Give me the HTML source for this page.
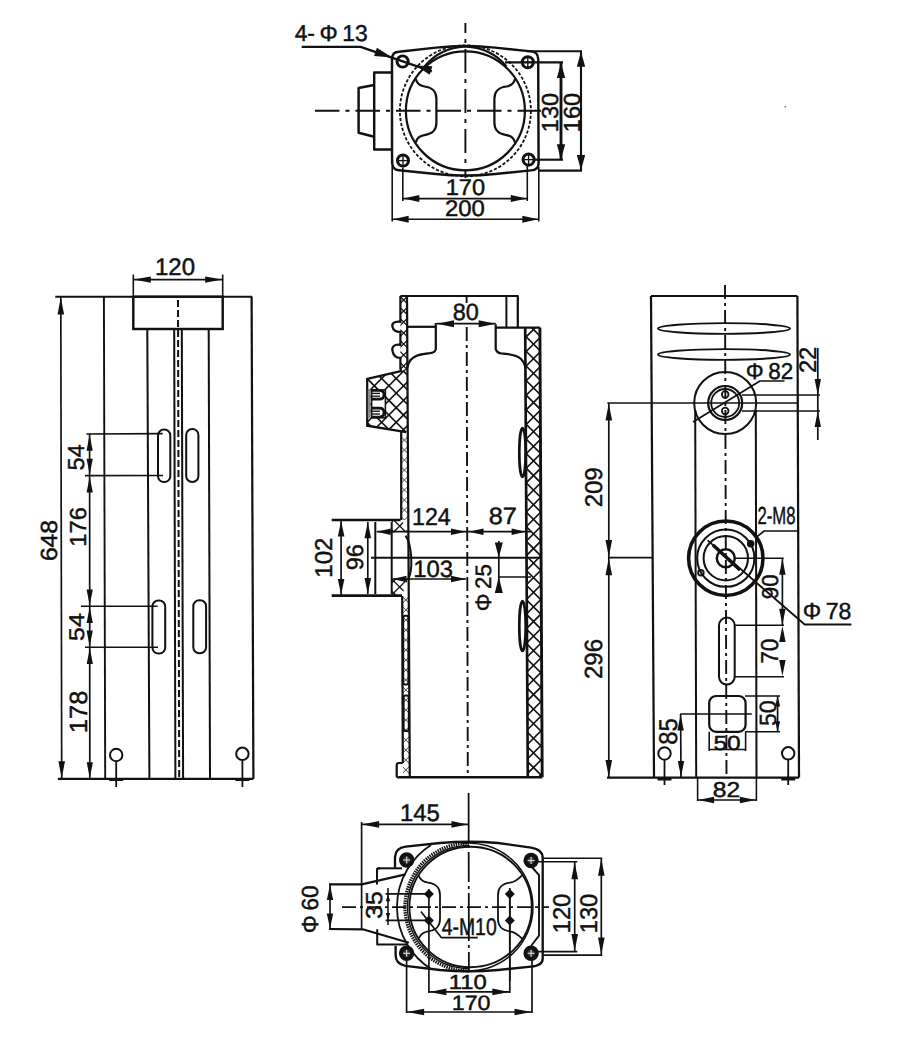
<!DOCTYPE html>
<html><head><meta charset="utf-8"><style>
html,body{margin:0;padding:0;background:#fff;}
svg{display:block;}
text{font-family:"Liberation Sans",sans-serif;fill:#111;stroke:#111;stroke-width:0.45px;text-rendering:geometricPrecision;}
</style></head><body>
<svg width="900" height="1039" viewBox="0 0 900 1039">
<defs>
<pattern id="hx" width="9.2" height="9.2" patternUnits="userSpaceOnUse" patternTransform="rotate(45)">
<path d="M0,0 L9.2,0 M0,0 L0,9.2" stroke="#111" stroke-width="1.5"/>
</pattern>
<pattern id="hx2" width="7" height="7" patternUnits="userSpaceOnUse" patternTransform="rotate(45)">
<path d="M0,0 L7,0 M0,0 L0,7" stroke="#555" stroke-width="1.0"/>
</pattern>
</defs>
<rect width="900" height="1039" fill="#fff"/>
<path d="M392,150 L392,59 Q392,52 399,51.8 L436,47.6 Q465.4,44.2 495,47.6 L531,51.4 Q538,52 538.2,59 L538.6,163 Q538.6,170 531,170.4 L495,174 Q465.4,177.2 436,174 L399,170.2 Q392.2,169.8 392.2,163 Z" fill="none" stroke="#111" stroke-width="2.45"/>
<circle cx="465.4" cy="110.8" r="65.5" fill="none" stroke="#111" stroke-width="1.79" stroke-dasharray="3.2,1.8"/>
<circle cx="465.4" cy="110.8" r="59.5" fill="none" stroke="#111" stroke-width="2.23"/>
<path d="M424.5,66.5 C433,56 447,47.6 465.4,46.4 C484,47.6 498,56 506.5,66.5" fill="none" stroke="#111" stroke-width="2.12"/>
<path d="M415.8,79.1 C416.9,83.8 419.4,85.8 424.4,86.5 C433.4,87.8 436.4,91.8 436.4,98.8 L436.4,122.8 C436.4,129.8 433.4,133.8 424.4,135.1 C419.4,135.8 416.9,137.8 415.8,142.5" fill="none" stroke="#111" stroke-width="2.23"/>
<path d="M515.0,79.1 C513.9,83.8 511.4,85.8 506.4,86.5 C497.4,87.8 494.4,91.8 494.4,98.8 L494.4,122.8 C494.4,129.8 497.4,133.8 506.4,135.1 C511.4,135.8 513.9,137.8 515.0,142.5" fill="none" stroke="#111" stroke-width="2.23"/>
<circle cx="402.6" cy="61.5" r="5.6" fill="none" stroke="#111" stroke-width="2.89"/>
<circle cx="527.8" cy="62.3" r="5.6" fill="none" stroke="#111" stroke-width="2.89"/>
<line x1="522.3" y1="62.3" x2="533.3" y2="62.3" stroke="#111" stroke-width="1.35"/>
<line x1="527.8" y1="56.8" x2="527.8" y2="67.8" stroke="#111" stroke-width="1.35"/>
<circle cx="403.0" cy="160.6" r="5.6" fill="none" stroke="#111" stroke-width="2.89"/>
<line x1="397.5" y1="160.6" x2="408.5" y2="160.6" stroke="#111" stroke-width="1.35"/>
<line x1="403.0" y1="155.1" x2="403.0" y2="166.1" stroke="#111" stroke-width="1.35"/>
<circle cx="528.6" cy="159.6" r="5.6" fill="none" stroke="#111" stroke-width="2.89"/>
<line x1="523.1" y1="159.6" x2="534.1" y2="159.6" stroke="#111" stroke-width="1.35"/>
<line x1="528.6" y1="154.1" x2="528.6" y2="165.1" stroke="#111" stroke-width="1.35"/>
<polyline points="392.0,72.4 374.2,72.4 374.2,149.5 392.0,149.5" fill="none" stroke="#111" stroke-width="2.45" stroke-linejoin="round"/>
<polyline points="374.2,85.0 358.6,88.0 358.6,132.8 374.2,136.7" fill="none" stroke="#111" stroke-width="2.45" stroke-linejoin="round"/>
<line x1="315.0" y1="110.8" x2="541.0" y2="110.8" stroke="#111" stroke-width="1.9" stroke-dasharray="24.5,6,4,6"/>
<line x1="465.4" y1="23.0" x2="465.4" y2="178.0" stroke="#111" stroke-width="1.9" stroke-dasharray="10,6,4,6,24,6,4,6,24,6,4,6,24,6,4,6,24,6,4,6"/>
<polyline points="301.7,46.9 360.6,46.9 431.8,71.4" fill="none" stroke="#111" stroke-width="2.23" stroke-linejoin="round"/>
<polygon points="392.2,57.5 374.1,55.9 376.9,47.7" fill="#111"/>
<polygon points="416.0,65.4 432.4,66.2 429.6,74.8" fill="#111"/>
<text x="294.66" y="41.36" font-size="22.89" textLength="73.14" lengthAdjust="spacingAndGlyphs">4-&#8201;Φ&#8201;13</text>
<line x1="505.0" y1="62.4" x2="563.0" y2="62.4" stroke="#111" stroke-width="2.12"/>
<line x1="534.0" y1="159.7" x2="563.0" y2="159.7" stroke="#111" stroke-width="2.12"/>
<line x1="561.0" y1="62.4" x2="561.0" y2="159.7" stroke="#111" stroke-width="2.89"/>
<polygon points="561.0,63.0 565.2,78.0 556.8,78.0" fill="#111"/>
<polygon points="561.0,159.2 556.8,144.2 565.2,144.2" fill="#111"/>
<text transform="translate(558.14,132.14) rotate(-90)" x="0" y="0" font-size="23.11" textLength="39.11" lengthAdjust="spacingAndGlyphs">130</text>
<line x1="527.0" y1="51.2" x2="582.0" y2="51.2" stroke="#111" stroke-width="2.12"/>
<line x1="538.0" y1="170.6" x2="582.0" y2="170.6" stroke="#111" stroke-width="2.12"/>
<line x1="581.0" y1="51.2" x2="581.0" y2="170.6" stroke="#111" stroke-width="2.12"/>
<polygon points="581.0,51.8 585.2,66.8 576.8,66.8" fill="#111"/>
<polygon points="581.0,170.0 576.8,155.0 585.2,155.0" fill="#111"/>
<text transform="translate(580.44,132.13) rotate(-90)" x="0" y="0" font-size="23.24" textLength="39.15" lengthAdjust="spacingAndGlyphs">160</text>
<line x1="402.8" y1="168.0" x2="402.8" y2="201.0" stroke="#111" stroke-width="1.57"/>
<line x1="527.3" y1="166.0" x2="527.3" y2="201.0" stroke="#111" stroke-width="1.57"/>
<line x1="402.8" y1="198.6" x2="527.3" y2="198.6" stroke="#111" stroke-width="1.57"/>
<polygon points="403.3,198.6 419.3,195.1 419.3,202.1" fill="#111"/>
<polygon points="526.8,198.6 510.8,202.1 510.8,195.1" fill="#111"/>
<text x="445.66" y="195.44" font-size="22.66" textLength="39.48" lengthAdjust="spacingAndGlyphs">170</text>
<line x1="392.2" y1="167.0" x2="392.2" y2="221.5" stroke="#111" stroke-width="1.57"/>
<line x1="538.8" y1="167.0" x2="538.8" y2="221.5" stroke="#111" stroke-width="1.57"/>
<line x1="392.2" y1="219.2" x2="538.8" y2="219.2" stroke="#111" stroke-width="1.57"/>
<polygon points="392.7,219.2 408.7,215.7 408.7,222.7" fill="#111"/>
<polygon points="538.3,219.2 522.3,222.7 522.3,215.7" fill="#111"/>
<text x="444.95" y="216.45" font-size="22.67" textLength="39.94" lengthAdjust="spacingAndGlyphs">200</text>
<line x1="55.3" y1="296.7" x2="252.1" y2="296.7" stroke="#111" stroke-width="1.9"/>
<line x1="57.9" y1="778.8" x2="253.4" y2="778.8" stroke="#111" stroke-width="2.23"/>
<line x1="251.6" y1="296.7" x2="253.4" y2="778.8" stroke="#111" stroke-width="2.23"/>
<line x1="103.9" y1="296.7" x2="105.2" y2="778.8" stroke="#111" stroke-width="1.9"/>
<rect x="133.3" y="296.7" width="89.4" height="32.3" rx="0" fill="none" stroke="#111" stroke-width="2.45"/>
<line x1="147.3" y1="329.0" x2="149.4" y2="778.8" stroke="#111" stroke-width="2.01"/>
<line x1="208.7" y1="329.0" x2="210.0" y2="778.8" stroke="#111" stroke-width="2.01"/>
<line x1="174.2" y1="329.0" x2="175.4" y2="778.8" stroke="#111" stroke-width="2.01"/>
<line x1="181.8" y1="329.0" x2="183.1" y2="778.8" stroke="#111" stroke-width="2.01"/>
<line x1="178.0" y1="300.0" x2="179.2" y2="778.8" stroke="#111" stroke-width="2.01" stroke-dasharray="7,3"/>
<rect x="158.0" y="429.5" width="12.3" height="52.6" rx="6" fill="none" stroke="#111" stroke-width="2.01"/>
<rect x="186.2" y="429.0" width="12.2" height="53.0" rx="6" fill="none" stroke="#111" stroke-width="2.01"/>
<rect x="152.4" y="600.5" width="12.8" height="53.1" rx="6" fill="none" stroke="#111" stroke-width="2.01"/>
<rect x="193.3" y="600.3" width="12.8" height="52.9" rx="6" fill="none" stroke="#111" stroke-width="2.01"/>
<circle cx="116.2" cy="755.0" r="6.2" fill="none" stroke="#111" stroke-width="2.01"/>
<line x1="116.2" y1="761.2" x2="116.2" y2="787.0" stroke="#111" stroke-width="1.79"/>
<line x1="109.2" y1="779.5" x2="123.2" y2="779.5" stroke="#111" stroke-width="3.0"/>
<circle cx="242.4" cy="753.8" r="6.2" fill="none" stroke="#111" stroke-width="2.01"/>
<line x1="242.4" y1="760.0" x2="242.4" y2="787.0" stroke="#111" stroke-width="1.79"/>
<line x1="235.4" y1="779.5" x2="249.4" y2="779.5" stroke="#111" stroke-width="3.0"/>
<line x1="60.8" y1="297.0" x2="61.7" y2="778.5" stroke="#111" stroke-width="1.68"/>
<polygon points="60.8,297.5 64.1,314.5 57.5,314.5" fill="#111"/>
<polygon points="61.7,778.3 58.4,761.3 65.0,761.3" fill="#111"/>
<text transform="translate(57.42,561.11) rotate(-90)" x="0" y="0" font-size="23.32" textLength="41.17" lengthAdjust="spacingAndGlyphs">648</text>
<line x1="133.3" y1="274.5" x2="133.3" y2="296.7" stroke="#111" stroke-width="1.57"/>
<line x1="222.7" y1="274.5" x2="222.7" y2="296.7" stroke="#111" stroke-width="1.57"/>
<line x1="133.3" y1="279.6" x2="222.7" y2="279.6" stroke="#111" stroke-width="1.68"/>
<polygon points="133.8,279.6 150.8,276.4 150.8,282.8" fill="#111"/>
<polygon points="222.2,279.6 205.2,282.8 205.2,276.4" fill="#111"/>
<text x="155.02" y="275.49" font-size="23.87" textLength="40.02" lengthAdjust="spacingAndGlyphs">120</text>
<line x1="86.4" y1="434.0" x2="162.7" y2="433.6" stroke="#111" stroke-width="1.57"/>
<line x1="84.9" y1="475.6" x2="163.0" y2="475.5" stroke="#111" stroke-width="1.57"/>
<line x1="81.0" y1="606.3" x2="157.6" y2="606.3" stroke="#111" stroke-width="1.57"/>
<line x1="85.0" y1="647.2" x2="158.0" y2="647.2" stroke="#111" stroke-width="1.57"/>
<line x1="89.6" y1="434.0" x2="89.8" y2="778.5" stroke="#111" stroke-width="1.68"/>
<polygon points="89.6,434.8 92.7,450.8 86.5,450.8" fill="#111"/>
<polygon points="89.7,474.8 86.6,458.8 92.8,458.8" fill="#111"/>
<polygon points="89.7,476.4 92.8,492.4 86.6,492.4" fill="#111"/>
<polygon points="89.7,605.5 86.6,589.5 92.8,589.5" fill="#111"/>
<polygon points="89.7,607.1 92.8,623.1 86.6,623.1" fill="#111"/>
<polygon points="89.7,646.4 86.6,630.4 92.8,630.4" fill="#111"/>
<polygon points="89.8,648.0 92.9,664.0 86.7,664.0" fill="#111"/>
<polygon points="89.8,778.3 86.7,762.3 92.9,762.3" fill="#111"/>
<text transform="translate(84.26,470.41) rotate(-90)" x="0" y="0" font-size="23.18" textLength="26.14" lengthAdjust="spacingAndGlyphs">54</text>
<text transform="translate(85.59,546.66) rotate(-90)" x="0" y="0" font-size="23.16" textLength="39.45" lengthAdjust="spacingAndGlyphs">176</text>
<text transform="translate(83.73,640.91) rotate(-90)" x="0" y="0" font-size="21.35" textLength="27.73" lengthAdjust="spacingAndGlyphs">54</text>
<text transform="translate(86.93,733.23) rotate(-90)" x="0" y="0" font-size="24.92" textLength="42.55" lengthAdjust="spacingAndGlyphs">178</text>
<clipPath id="hc1"><path d="M525.5,327.6 L540,327.6 L542,777.3 L527.6,777.3 Z"/></clipPath><g clip-path="url(#hc1)" stroke="#111" stroke-width="1.6"><line x1="520.0" y1="272.2" x2="545.0" y2="297.2"/><line x1="520.0" y1="286.8" x2="545.0" y2="311.8"/><line x1="520.0" y1="301.4" x2="545.0" y2="326.4"/><line x1="520.0" y1="316.0" x2="545.0" y2="341.0"/><line x1="520.0" y1="330.6" x2="545.0" y2="355.6"/><line x1="520.0" y1="345.2" x2="545.0" y2="370.2"/><line x1="520.0" y1="359.8" x2="545.0" y2="384.8"/><line x1="520.0" y1="374.4" x2="545.0" y2="399.4"/><line x1="520.0" y1="389.0" x2="545.0" y2="414.0"/><line x1="520.0" y1="403.6" x2="545.0" y2="428.6"/><line x1="520.0" y1="418.2" x2="545.0" y2="443.2"/><line x1="520.0" y1="432.8" x2="545.0" y2="457.8"/><line x1="520.0" y1="447.4" x2="545.0" y2="472.4"/><line x1="520.0" y1="462.0" x2="545.0" y2="487.0"/><line x1="520.0" y1="476.6" x2="545.0" y2="501.6"/><line x1="520.0" y1="491.2" x2="545.0" y2="516.2"/><line x1="520.0" y1="505.8" x2="545.0" y2="530.8"/><line x1="520.0" y1="520.4" x2="545.0" y2="545.4"/><line x1="520.0" y1="535.0" x2="545.0" y2="560.0"/><line x1="520.0" y1="549.6" x2="545.0" y2="574.6"/><line x1="520.0" y1="564.2" x2="545.0" y2="589.2"/><line x1="520.0" y1="578.8" x2="545.0" y2="603.8"/><line x1="520.0" y1="593.4" x2="545.0" y2="618.4"/><line x1="520.0" y1="608.0" x2="545.0" y2="633.0"/><line x1="520.0" y1="622.6" x2="545.0" y2="647.6"/><line x1="520.0" y1="637.2" x2="545.0" y2="662.2"/><line x1="520.0" y1="651.8" x2="545.0" y2="676.8"/><line x1="520.0" y1="666.4" x2="545.0" y2="691.4"/><line x1="520.0" y1="681.0" x2="545.0" y2="706.0"/><line x1="520.0" y1="695.6" x2="545.0" y2="720.6"/><line x1="520.0" y1="710.2" x2="545.0" y2="735.2"/><line x1="520.0" y1="724.8" x2="545.0" y2="749.8"/><line x1="520.0" y1="739.4" x2="545.0" y2="764.4"/><line x1="520.0" y1="754.0" x2="545.0" y2="779.0"/><line x1="520.0" y1="768.6" x2="545.0" y2="793.6"/><line x1="520.0" y1="783.2" x2="545.0" y2="808.2"/><line x1="520.0" y1="797.8" x2="545.0" y2="822.8"/><line x1="520.0" y1="299.2" x2="545.0" y2="274.2"/><line x1="520.0" y1="313.8" x2="545.0" y2="288.8"/><line x1="520.0" y1="328.4" x2="545.0" y2="303.4"/><line x1="520.0" y1="343.0" x2="545.0" y2="318.0"/><line x1="520.0" y1="357.6" x2="545.0" y2="332.6"/><line x1="520.0" y1="372.2" x2="545.0" y2="347.2"/><line x1="520.0" y1="386.8" x2="545.0" y2="361.8"/><line x1="520.0" y1="401.4" x2="545.0" y2="376.4"/><line x1="520.0" y1="416.0" x2="545.0" y2="391.0"/><line x1="520.0" y1="430.6" x2="545.0" y2="405.6"/><line x1="520.0" y1="445.2" x2="545.0" y2="420.2"/><line x1="520.0" y1="459.8" x2="545.0" y2="434.8"/><line x1="520.0" y1="474.4" x2="545.0" y2="449.4"/><line x1="520.0" y1="489.0" x2="545.0" y2="464.0"/><line x1="520.0" y1="503.6" x2="545.0" y2="478.6"/><line x1="520.0" y1="518.2" x2="545.0" y2="493.2"/><line x1="520.0" y1="532.8" x2="545.0" y2="507.8"/><line x1="520.0" y1="547.4" x2="545.0" y2="522.4"/><line x1="520.0" y1="562.0" x2="545.0" y2="537.0"/><line x1="520.0" y1="576.6" x2="545.0" y2="551.6"/><line x1="520.0" y1="591.2" x2="545.0" y2="566.2"/><line x1="520.0" y1="605.8" x2="545.0" y2="580.8"/><line x1="520.0" y1="620.4" x2="545.0" y2="595.4"/><line x1="520.0" y1="635.0" x2="545.0" y2="610.0"/><line x1="520.0" y1="649.6" x2="545.0" y2="624.6"/><line x1="520.0" y1="664.2" x2="545.0" y2="639.2"/><line x1="520.0" y1="678.8" x2="545.0" y2="653.8"/><line x1="520.0" y1="693.4" x2="545.0" y2="668.4"/><line x1="520.0" y1="708.0" x2="545.0" y2="683.0"/><line x1="520.0" y1="722.6" x2="545.0" y2="697.6"/><line x1="520.0" y1="737.2" x2="545.0" y2="712.2"/><line x1="520.0" y1="751.8" x2="545.0" y2="726.8"/><line x1="520.0" y1="766.4" x2="545.0" y2="741.4"/><line x1="520.0" y1="781.0" x2="545.0" y2="756.0"/><line x1="520.0" y1="795.6" x2="545.0" y2="770.6"/><line x1="520.0" y1="810.2" x2="545.0" y2="785.2"/><line x1="520.0" y1="824.8" x2="545.0" y2="799.8"/></g>
<clipPath id="hc2"><path d="M400.5,296 L407,296 L407,370 L400.5,370 Z"/></clipPath><g clip-path="url(#hc2)" stroke="#111" stroke-width="1.3"><line x1="395.0" y1="258.3" x2="410.0" y2="273.3"/><line x1="395.0" y1="269.3" x2="410.0" y2="284.3"/><line x1="395.0" y1="280.3" x2="410.0" y2="295.3"/><line x1="395.0" y1="291.3" x2="410.0" y2="306.3"/><line x1="395.0" y1="302.3" x2="410.0" y2="317.3"/><line x1="395.0" y1="313.3" x2="410.0" y2="328.3"/><line x1="395.0" y1="324.3" x2="410.0" y2="339.3"/><line x1="395.0" y1="335.3" x2="410.0" y2="350.3"/><line x1="395.0" y1="346.3" x2="410.0" y2="361.3"/><line x1="395.0" y1="357.3" x2="410.0" y2="372.3"/><line x1="395.0" y1="368.3" x2="410.0" y2="383.3"/><line x1="395.0" y1="379.3" x2="410.0" y2="394.3"/><line x1="395.0" y1="390.3" x2="410.0" y2="405.3"/><line x1="395.0" y1="275.7" x2="410.0" y2="260.7"/><line x1="395.0" y1="286.7" x2="410.0" y2="271.7"/><line x1="395.0" y1="297.7" x2="410.0" y2="282.7"/><line x1="395.0" y1="308.7" x2="410.0" y2="293.7"/><line x1="395.0" y1="319.7" x2="410.0" y2="304.7"/><line x1="395.0" y1="330.7" x2="410.0" y2="315.7"/><line x1="395.0" y1="341.7" x2="410.0" y2="326.7"/><line x1="395.0" y1="352.7" x2="410.0" y2="337.7"/><line x1="395.0" y1="363.7" x2="410.0" y2="348.7"/><line x1="395.0" y1="374.7" x2="410.0" y2="359.7"/><line x1="395.0" y1="385.7" x2="410.0" y2="370.7"/><line x1="395.0" y1="396.7" x2="410.0" y2="381.7"/><line x1="395.0" y1="407.7" x2="410.0" y2="392.7"/></g>
<clipPath id="hc3"><path d="M401.9,370.9 L367.2,378.8 L367.2,425.7 L406.2,432.2 L407,432 L407,368 Z"/></clipPath><g clip-path="url(#hc3)" stroke="#111" stroke-width="1.6"><line x1="360.0" y1="283.9" x2="410.0" y2="333.9"/><line x1="360.0" y1="298.5" x2="410.0" y2="348.5"/><line x1="360.0" y1="313.1" x2="410.0" y2="363.1"/><line x1="360.0" y1="327.7" x2="410.0" y2="377.7"/><line x1="360.0" y1="342.3" x2="410.0" y2="392.3"/><line x1="360.0" y1="356.9" x2="410.0" y2="406.9"/><line x1="360.0" y1="371.5" x2="410.0" y2="421.5"/><line x1="360.0" y1="386.1" x2="410.0" y2="436.1"/><line x1="360.0" y1="400.7" x2="410.0" y2="450.7"/><line x1="360.0" y1="415.3" x2="410.0" y2="465.3"/><line x1="360.0" y1="429.9" x2="410.0" y2="479.9"/><line x1="360.0" y1="444.5" x2="410.0" y2="494.5"/><line x1="360.0" y1="459.1" x2="410.0" y2="509.1"/><line x1="360.0" y1="341.7" x2="410.0" y2="291.7"/><line x1="360.0" y1="356.3" x2="410.0" y2="306.3"/><line x1="360.0" y1="370.9" x2="410.0" y2="320.9"/><line x1="360.0" y1="385.5" x2="410.0" y2="335.5"/><line x1="360.0" y1="400.1" x2="410.0" y2="350.1"/><line x1="360.0" y1="414.7" x2="410.0" y2="364.7"/><line x1="360.0" y1="429.3" x2="410.0" y2="379.3"/><line x1="360.0" y1="443.9" x2="410.0" y2="393.9"/><line x1="360.0" y1="458.5" x2="410.0" y2="408.5"/><line x1="360.0" y1="473.1" x2="410.0" y2="423.1"/><line x1="360.0" y1="487.7" x2="410.0" y2="437.7"/><line x1="360.0" y1="502.3" x2="410.0" y2="452.3"/><line x1="360.0" y1="516.9" x2="410.0" y2="466.9"/></g>
<clipPath id="hc4"><path d="M391.7,520 L402,520 L407.8,532.2 L391.7,532.2 Z"/></clipPath><g clip-path="url(#hc4)" stroke="#111" stroke-width="1.3"><line x1="388.0" y1="478.3" x2="412.0" y2="502.3"/><line x1="388.0" y1="490.3" x2="412.0" y2="514.3"/><line x1="388.0" y1="502.3" x2="412.0" y2="526.3"/><line x1="388.0" y1="514.3" x2="412.0" y2="538.3"/><line x1="388.0" y1="526.3" x2="412.0" y2="550.3"/><line x1="388.0" y1="538.3" x2="412.0" y2="562.3"/><line x1="388.0" y1="550.3" x2="412.0" y2="574.3"/><line x1="388.0" y1="501.7" x2="412.0" y2="477.7"/><line x1="388.0" y1="513.7" x2="412.0" y2="489.7"/><line x1="388.0" y1="525.7" x2="412.0" y2="501.7"/><line x1="388.0" y1="537.7" x2="412.0" y2="513.7"/><line x1="388.0" y1="549.7" x2="412.0" y2="525.7"/><line x1="388.0" y1="561.7" x2="412.0" y2="537.7"/><line x1="388.0" y1="573.7" x2="412.0" y2="549.7"/></g>
<clipPath id="hc5"><path d="M391.7,579 L407.8,579 L402,595.6 L391.7,595.6 Z"/></clipPath><g clip-path="url(#hc5)" stroke="#111" stroke-width="1.3"><line x1="388.0" y1="527.3" x2="412.0" y2="551.3"/><line x1="388.0" y1="539.3" x2="412.0" y2="563.3"/><line x1="388.0" y1="551.3" x2="412.0" y2="575.3"/><line x1="388.0" y1="563.3" x2="412.0" y2="587.3"/><line x1="388.0" y1="575.3" x2="412.0" y2="599.3"/><line x1="388.0" y1="587.3" x2="412.0" y2="611.3"/><line x1="388.0" y1="599.3" x2="412.0" y2="623.3"/><line x1="388.0" y1="611.3" x2="412.0" y2="635.3"/><line x1="388.0" y1="623.3" x2="412.0" y2="647.3"/><line x1="388.0" y1="562.7" x2="412.0" y2="538.7"/><line x1="388.0" y1="574.7" x2="412.0" y2="550.7"/><line x1="388.0" y1="586.7" x2="412.0" y2="562.7"/><line x1="388.0" y1="598.7" x2="412.0" y2="574.7"/><line x1="388.0" y1="610.7" x2="412.0" y2="586.7"/><line x1="388.0" y1="622.7" x2="412.0" y2="598.7"/><line x1="388.0" y1="634.7" x2="412.0" y2="610.7"/><line x1="388.0" y1="646.7" x2="412.0" y2="622.7"/></g>
<clipPath id="hc6"><path d="M401.2,434 L407.6,434 L407.6,520 L401.2,520 Z"/></clipPath><g clip-path="url(#hc6)" stroke="#444" stroke-width="1.0"><line x1="398.0" y1="403.6" x2="410.0" y2="415.6"/><line x1="398.0" y1="413.6" x2="410.0" y2="425.6"/><line x1="398.0" y1="423.6" x2="410.0" y2="435.6"/><line x1="398.0" y1="433.6" x2="410.0" y2="445.6"/><line x1="398.0" y1="443.6" x2="410.0" y2="455.6"/><line x1="398.0" y1="453.6" x2="410.0" y2="465.6"/><line x1="398.0" y1="463.6" x2="410.0" y2="475.6"/><line x1="398.0" y1="473.6" x2="410.0" y2="485.6"/><line x1="398.0" y1="483.6" x2="410.0" y2="495.6"/><line x1="398.0" y1="493.6" x2="410.0" y2="505.6"/><line x1="398.0" y1="503.6" x2="410.0" y2="515.6"/><line x1="398.0" y1="513.6" x2="410.0" y2="525.6"/><line x1="398.0" y1="523.6" x2="410.0" y2="535.6"/><line x1="398.0" y1="533.6" x2="410.0" y2="545.6"/><line x1="398.0" y1="543.6" x2="410.0" y2="555.6"/><line x1="398.0" y1="416.4" x2="410.0" y2="404.4"/><line x1="398.0" y1="426.4" x2="410.0" y2="414.4"/><line x1="398.0" y1="436.4" x2="410.0" y2="424.4"/><line x1="398.0" y1="446.4" x2="410.0" y2="434.4"/><line x1="398.0" y1="456.4" x2="410.0" y2="444.4"/><line x1="398.0" y1="466.4" x2="410.0" y2="454.4"/><line x1="398.0" y1="476.4" x2="410.0" y2="464.4"/><line x1="398.0" y1="486.4" x2="410.0" y2="474.4"/><line x1="398.0" y1="496.4" x2="410.0" y2="484.4"/><line x1="398.0" y1="506.4" x2="410.0" y2="494.4"/><line x1="398.0" y1="516.4" x2="410.0" y2="504.4"/><line x1="398.0" y1="526.4" x2="410.0" y2="514.4"/><line x1="398.0" y1="536.4" x2="410.0" y2="524.4"/><line x1="398.0" y1="546.4" x2="410.0" y2="534.4"/><line x1="398.0" y1="556.4" x2="410.0" y2="544.4"/></g>
<clipPath id="hc7"><path d="M402,596 L409,596 L410,777 L403,777 Z"/></clipPath><g clip-path="url(#hc7)" stroke="#444" stroke-width="1.0"><line x1="398.0" y1="562.2" x2="414.0" y2="578.2"/><line x1="398.0" y1="572.2" x2="414.0" y2="588.2"/><line x1="398.0" y1="582.2" x2="414.0" y2="598.2"/><line x1="398.0" y1="592.2" x2="414.0" y2="608.2"/><line x1="398.0" y1="602.2" x2="414.0" y2="618.2"/><line x1="398.0" y1="612.2" x2="414.0" y2="628.2"/><line x1="398.0" y1="622.2" x2="414.0" y2="638.2"/><line x1="398.0" y1="632.2" x2="414.0" y2="648.2"/><line x1="398.0" y1="642.2" x2="414.0" y2="658.2"/><line x1="398.0" y1="652.2" x2="414.0" y2="668.2"/><line x1="398.0" y1="662.2" x2="414.0" y2="678.2"/><line x1="398.0" y1="672.2" x2="414.0" y2="688.2"/><line x1="398.0" y1="682.2" x2="414.0" y2="698.2"/><line x1="398.0" y1="692.2" x2="414.0" y2="708.2"/><line x1="398.0" y1="702.2" x2="414.0" y2="718.2"/><line x1="398.0" y1="712.2" x2="414.0" y2="728.2"/><line x1="398.0" y1="722.2" x2="414.0" y2="738.2"/><line x1="398.0" y1="732.2" x2="414.0" y2="748.2"/><line x1="398.0" y1="742.2" x2="414.0" y2="758.2"/><line x1="398.0" y1="752.2" x2="414.0" y2="768.2"/><line x1="398.0" y1="762.2" x2="414.0" y2="778.2"/><line x1="398.0" y1="772.2" x2="414.0" y2="788.2"/><line x1="398.0" y1="782.2" x2="414.0" y2="798.2"/><line x1="398.0" y1="792.2" x2="414.0" y2="808.2"/><line x1="398.0" y1="577.8" x2="414.0" y2="561.8"/><line x1="398.0" y1="587.8" x2="414.0" y2="571.8"/><line x1="398.0" y1="597.8" x2="414.0" y2="581.8"/><line x1="398.0" y1="607.8" x2="414.0" y2="591.8"/><line x1="398.0" y1="617.8" x2="414.0" y2="601.8"/><line x1="398.0" y1="627.8" x2="414.0" y2="611.8"/><line x1="398.0" y1="637.8" x2="414.0" y2="621.8"/><line x1="398.0" y1="647.8" x2="414.0" y2="631.8"/><line x1="398.0" y1="657.8" x2="414.0" y2="641.8"/><line x1="398.0" y1="667.8" x2="414.0" y2="651.8"/><line x1="398.0" y1="677.8" x2="414.0" y2="661.8"/><line x1="398.0" y1="687.8" x2="414.0" y2="671.8"/><line x1="398.0" y1="697.8" x2="414.0" y2="681.8"/><line x1="398.0" y1="707.8" x2="414.0" y2="691.8"/><line x1="398.0" y1="717.8" x2="414.0" y2="701.8"/><line x1="398.0" y1="727.8" x2="414.0" y2="711.8"/><line x1="398.0" y1="737.8" x2="414.0" y2="721.8"/><line x1="398.0" y1="747.8" x2="414.0" y2="731.8"/><line x1="398.0" y1="757.8" x2="414.0" y2="741.8"/><line x1="398.0" y1="767.8" x2="414.0" y2="751.8"/><line x1="398.0" y1="777.8" x2="414.0" y2="761.8"/><line x1="398.0" y1="787.8" x2="414.0" y2="771.8"/><line x1="398.0" y1="797.8" x2="414.0" y2="781.8"/><line x1="398.0" y1="807.8" x2="414.0" y2="791.8"/></g>
<polyline points="400.4,296.0 517.8,296.0 517.8,327.3" fill="none" stroke="#111" stroke-width="2.23" stroke-linejoin="round"/>
<line x1="506.4" y1="296.0" x2="506.4" y2="327.3" stroke="#111" stroke-width="2.01"/>
<path d="M400.4,296 L400.4,321.8 C394,321 391.5,324 392.5,327 C393.5,331 397,332 400.4,331.9 L400.4,344.9 C394,344 391.5,347 392.5,351 C393.5,356 397,358 400.4,357.9 L400.4,369.4" fill="none" stroke="#111" stroke-width="2.23"/>
<path d="M400.4,369.4 C401,370.5 401.5,370.9 401.9,370.9 L367.2,378.8 L367.2,425.7 L406.2,432.2" fill="none" stroke="#111" stroke-width="2.23"/>
<rect x="371.6" y="390.0" width="13.8" height="27.8" rx="0" fill="#fff" stroke="#111" stroke-width="1.57"/>
<path d="M372,390.4 L379.5,390.4 Q384,390.4 384,394.8 Q384,399.2 379.5,399.2 L372,399.2" fill="none" stroke="#111" stroke-width="2.67"/>
<line x1="372.0" y1="393.4" x2="380.0" y2="393.4" stroke="#111" stroke-width="1.35"/>
<line x1="372.0" y1="396.2" x2="380.0" y2="396.2" stroke="#111" stroke-width="1.35"/>
<path d="M372,408.2 L379.5,408.2 Q384,408.2 384,412.6 Q384,417.0 379.5,417.0 L372,417.0" fill="none" stroke="#111" stroke-width="2.67"/>
<line x1="372.0" y1="411.2" x2="380.0" y2="411.2" stroke="#111" stroke-width="1.35"/>
<line x1="372.0" y1="414.0" x2="380.0" y2="414.0" stroke="#111" stroke-width="1.35"/>
<line x1="369.2" y1="389.0" x2="369.2" y2="418.0" stroke="#888" stroke-width="2.89"/>
<line x1="407.0" y1="296.0" x2="409.8" y2="777.3" stroke="#111" stroke-width="2.23"/>
<line x1="401.2" y1="432.0" x2="401.2" y2="520.0" stroke="#111" stroke-width="2.23"/>
<line x1="402.2" y1="596.0" x2="402.8" y2="763.0" stroke="#111" stroke-width="2.23"/>
<line x1="407.0" y1="326.8" x2="435.8" y2="326.8" stroke="#111" stroke-width="2.23"/>
<path d="M435.8,323 L435.8,349.2 C435,352 433,352.8 430,353.2 C420,354.2 414,355.5 410.5,360 C408.6,362.5 407.5,365 407.2,368" fill="none" stroke="#111" stroke-width="2.23"/>
<line x1="495.7" y1="327.6" x2="539.9" y2="327.6" stroke="#111" stroke-width="2.23"/>
<path d="M495.7,324.3 L495.7,348.9 C496.5,352 498,353 501,353.3 C511,354 517,355 521,359 C523.5,361.5 524.5,363.5 525,366" fill="none" stroke="#111" stroke-width="2.23"/>
<line x1="525.2" y1="327.6" x2="527.8" y2="777.3" stroke="#111" stroke-width="2.67"/>
<line x1="539.9" y1="327.6" x2="542.2" y2="777.3" stroke="#111" stroke-width="2.89"/>
<ellipse cx="522.5" cy="452.4" rx="3.2" ry="24.4" fill="none" stroke="#111" stroke-width="2.67"/>
<ellipse cx="522.5" cy="626.0" rx="3.2" ry="25.0" fill="none" stroke="#111" stroke-width="2.67"/>
<rect x="403.2" y="615.8" width="5.2" height="68.6" rx="2" fill="none" stroke="#111" stroke-width="2.01"/>
<rect x="403.6" y="695.6" width="5.2" height="35.4" rx="2" fill="none" stroke="#111" stroke-width="2.01"/>
<line x1="398.9" y1="777.3" x2="542.2" y2="777.3" stroke="#111" stroke-width="2.45"/>
<path d="M402.6,763 L398.5,763 Q396.7,763 396.7,766 L396.7,775.5 Q396.7,777.5 399,777.5" fill="none" stroke="#111" stroke-width="2.23"/>
<line x1="466.6" y1="296.0" x2="466.6" y2="303.0" stroke="#111" stroke-width="1.9"/>
<line x1="466.7" y1="327.0" x2="467.8" y2="777.3" stroke="#111" stroke-width="1.9" stroke-dasharray="14,4,3,4"/>
<line x1="331.7" y1="520.0" x2="400.5" y2="520.0" stroke="#111" stroke-width="2.67"/>
<line x1="331.7" y1="595.6" x2="402.0" y2="595.6" stroke="#111" stroke-width="2.67"/>
<line x1="375.3" y1="522.0" x2="375.3" y2="594.0" stroke="#111" stroke-width="2.01"/>
<line x1="391.7" y1="522.0" x2="391.7" y2="594.0" stroke="#111" stroke-width="2.01"/>
<path d="M405.6,535.6 C412,545 413.5,570 407.8,580" fill="none" stroke="#111" stroke-width="2.01"/>
<line x1="371.0" y1="557.8" x2="540.0" y2="557.8" stroke="#111" stroke-width="1.9"/>
<line x1="376.7" y1="531.7" x2="531.0" y2="531.7" stroke="#111" stroke-width="1.68"/>
<line x1="392.0" y1="579.0" x2="466.0" y2="579.0" stroke="#111" stroke-width="1.68"/>
<line x1="498.8" y1="577.0" x2="531.0" y2="577.0" stroke="#111" stroke-width="1.57"/>
<line x1="437.0" y1="323.7" x2="495.7" y2="323.7" stroke="#111" stroke-width="1.68"/>
<polygon points="437.0,323.7 454.0,320.2 454.0,327.2" fill="#111"/>
<polygon points="495.7,323.7 478.7,327.2 478.7,320.2" fill="#111"/>
<text x="452.75" y="319.62" font-size="23.49" textLength="26.07" lengthAdjust="spacingAndGlyphs">80</text>
<circle cx="785.3" cy="106.7" r="0.9" fill="#777"/>
<line x1="341.1" y1="520.0" x2="341.1" y2="595.6" stroke="#111" stroke-width="1.68"/>
<polygon points="341.1,521.0 344.4,536.5 337.8,536.5" fill="#111"/>
<polygon points="341.1,594.4 337.8,578.9 344.4,578.9" fill="#111"/>
<line x1="367.8" y1="522.0" x2="367.8" y2="594.0" stroke="#111" stroke-width="1.68"/>
<polygon points="367.8,522.2 371.1,538.2 364.5,538.2" fill="#111"/>
<polygon points="367.8,593.9 364.5,577.9 371.1,577.9" fill="#111"/>
<text transform="translate(332.39,577.72) rotate(-90)" x="0" y="0" font-size="24.38" textLength="40.04" lengthAdjust="spacingAndGlyphs">102</text>
<text transform="translate(362.63,570.32) rotate(-90)" x="0" y="0" font-size="23.57" textLength="26.15" lengthAdjust="spacingAndGlyphs">96</text>
<polygon points="376.7,531.7 390.7,528.5 390.7,534.9" fill="#111"/>
<polygon points="466.0,531.7 451.0,534.9 451.0,528.5" fill="#111"/>
<polygon points="468.5,531.7 483.5,528.5 483.5,534.9" fill="#111"/>
<polygon points="525.6,531.7 511.6,534.9 511.6,528.5" fill="#111"/>
<text x="412.04" y="524.58" font-size="24.52" textLength="38.70" lengthAdjust="spacingAndGlyphs">124</text>
<text x="488.68" y="524.02" font-size="23.69" textLength="28.13" lengthAdjust="spacingAndGlyphs">87</text>
<polygon points="392.5,579.0 406.5,575.8 406.5,582.2" fill="#111"/>
<polygon points="466.0,579.0 451.0,582.2 451.0,575.8" fill="#111"/>
<text x="413.32" y="577.34" font-size="23.53" textLength="39.80" lengthAdjust="spacingAndGlyphs">103</text>
<line x1="498.8" y1="541.0" x2="498.8" y2="593.0" stroke="#111" stroke-width="1.68"/>
<polygon points="498.8,557.5 494.8,542.5 502.8,542.5" fill="#111"/>
<polygon points="498.8,577.0 502.8,593.0 494.8,593.0" fill="#111"/>
<text transform="translate(491.04,611.17) rotate(-90)" x="0" y="0" font-size="22.39" textLength="47.09" lengthAdjust="spacingAndGlyphs">Φ&#8201;25</text>
<line x1="651.0" y1="296.0" x2="797.4" y2="296.0" stroke="#111" stroke-width="2.23"/>
<line x1="651.0" y1="296.0" x2="654.0" y2="777.6" stroke="#111" stroke-width="2.23"/>
<line x1="797.4" y1="296.0" x2="799.0" y2="777.6" stroke="#111" stroke-width="2.23"/>
<line x1="607.0" y1="777.6" x2="799.0" y2="777.6" stroke="#111" stroke-width="2.23"/>
<line x1="608.8" y1="557.6" x2="653.0" y2="557.6" stroke="#111" stroke-width="1.57"/>
<ellipse cx="724.0" cy="328.5" rx="66.0" ry="5.4" fill="none" stroke="#111" stroke-width="1.9"/>
<ellipse cx="724.0" cy="354.5" rx="66.0" ry="5.4" fill="none" stroke="#111" stroke-width="1.9"/>
<line x1="725.0" y1="285.0" x2="726.5" y2="777.6" stroke="#111" stroke-width="1.9" stroke-dasharray="14,4,3,4"/>
<circle cx="725.2" cy="403.0" r="31.0" fill="none" stroke="#111" stroke-width="2.01"/>
<circle cx="725.2" cy="403.0" r="17.0" fill="none" stroke="#111" stroke-width="2.23"/>
<circle cx="725.2" cy="403.0" r="14.0" fill="none" stroke="#111" stroke-width="1.79"/>
<circle cx="725.2" cy="394.5" r="3.3" fill="none" stroke="#111" stroke-width="1.79"/>
<circle cx="725.2" cy="411.0" r="3.3" fill="none" stroke="#111" stroke-width="1.79"/>
<line x1="695.2" y1="410.0" x2="696.2" y2="777.6" stroke="#111" stroke-width="2.01"/>
<line x1="755.8" y1="410.0" x2="756.5" y2="777.6" stroke="#111" stroke-width="2.01"/>
<polyline points="693.0,422.0 760.0,381.0 784.5,381.0" fill="none" stroke="#111" stroke-width="1.68" stroke-linejoin="round"/>
<text x="745.83" y="379.33" font-size="22.93" textLength="47.40" lengthAdjust="spacingAndGlyphs">Φ&#8201;82</text>
<line x1="742.0" y1="395.0" x2="820.0" y2="395.0" stroke="#111" stroke-width="1.57"/>
<line x1="742.0" y1="411.0" x2="820.0" y2="411.0" stroke="#111" stroke-width="1.57"/>
<line x1="607.3" y1="403.0" x2="797.0" y2="403.0" stroke="#111" stroke-width="1.57"/>
<line x1="817.8" y1="348.0" x2="817.8" y2="440.0" stroke="#111" stroke-width="1.68"/>
<polygon points="817.8,395.0 814.6,379.0 821.0,379.0" fill="#111"/>
<polygon points="817.8,411.0 821.0,427.0 814.6,427.0" fill="#111"/>
<text transform="translate(816.38,373.05) rotate(-90)" x="0" y="0" font-size="23.88" textLength="26.32" lengthAdjust="spacingAndGlyphs">22</text>
<line x1="608.8" y1="403.0" x2="608.8" y2="777.6" stroke="#111" stroke-width="1.68"/>
<polygon points="608.8,403.5 612.1,420.5 605.5,420.5" fill="#111"/>
<polygon points="608.8,557.0 605.5,540.0 612.1,540.0" fill="#111"/>
<polygon points="608.8,558.2 612.1,575.2 605.5,575.2" fill="#111"/>
<polygon points="608.8,777.0 605.5,760.0 612.1,760.0" fill="#111"/>
<text transform="translate(601.69,507.37) rotate(-90)" x="0" y="0" font-size="24.22" textLength="40.09" lengthAdjust="spacingAndGlyphs">209</text>
<text transform="translate(602.43,679.07) rotate(-90)" x="0" y="0" font-size="24.87" textLength="40.21" lengthAdjust="spacingAndGlyphs">296</text>
<text x="757.53" y="524.42" font-size="24.57" textLength="38.01" lengthAdjust="spacingAndGlyphs">2-M8</text>
<polyline points="757.4,536.4 764.2,531.0 798.5,531.0" fill="none" stroke="#111" stroke-width="1.68" stroke-linejoin="round"/>
<circle cx="725.8" cy="558.2" r="37.2" fill="none" stroke="#111" stroke-width="3.55"/>
<circle cx="725.8" cy="558.2" r="28.6" fill="none" stroke="#111" stroke-width="2.01"/>
<circle cx="725.8" cy="558.2" r="22.2" fill="none" stroke="#111" stroke-width="2.01"/>
<circle cx="725.8" cy="558.2" r="9.0" fill="none" stroke="#111" stroke-width="2.45"/>
<circle cx="750.7" cy="543.8" r="2.8" fill="#111" stroke="#111" stroke-width="1.9"/>
<circle cx="700.9" cy="572.7" r="2.8" fill="none" stroke="#111" stroke-width="1.9"/>
<polyline points="707.6,540.4 804.7,624.5 851.4,624.5" fill="none" stroke="#111" stroke-width="1.79" stroke-linejoin="round"/>
<line x1="713.0" y1="545.0" x2="740.0" y2="570.0" stroke="#111" stroke-width="3.55"/>
<text x="802.71" y="618.72" font-size="23.14" textLength="48.65" lengthAdjust="spacingAndGlyphs">Φ&#8201;78</text>
<line x1="733.9" y1="558.2" x2="783.7" y2="558.2" stroke="#111" stroke-width="1.57"/>
<line x1="782.4" y1="558.2" x2="782.4" y2="625.3" stroke="#111" stroke-width="1.68"/>
<polygon points="782.4,558.8 785.6,574.8 779.2,574.8" fill="#111"/>
<polygon points="782.4,624.7 779.2,608.7 785.6,608.7" fill="#111"/>
<text transform="translate(778.32,599.27) rotate(-90)" x="0" y="0" font-size="22.99" textLength="24.92" lengthAdjust="spacingAndGlyphs">90</text>
<rect x="719.0" y="617.6" width="15.7" height="66.9" rx="7.8" fill="none" stroke="#111" stroke-width="2.01"/>
<line x1="734.0" y1="625.3" x2="784.0" y2="625.3" stroke="#111" stroke-width="1.57"/>
<line x1="734.0" y1="676.7" x2="784.0" y2="676.7" stroke="#111" stroke-width="1.57"/>
<polygon points="782.4,626.0 785.6,642.0 779.2,642.0" fill="#111"/>
<polygon points="782.4,676.0 779.2,660.0 785.6,660.0" fill="#111"/>
<text transform="translate(778.29,663.82) rotate(-90)" x="0" y="0" font-size="24.45" textLength="25.14" lengthAdjust="spacingAndGlyphs">70</text>
<rect x="709.2" y="696.0" width="36.4" height="35.8" rx="7" fill="none" stroke="#111" stroke-width="2.23"/>
<line x1="745.0" y1="696.0" x2="780.0" y2="696.0" stroke="#111" stroke-width="1.57"/>
<line x1="745.0" y1="731.8" x2="780.0" y2="731.8" stroke="#111" stroke-width="1.57"/>
<line x1="777.6" y1="696.0" x2="777.6" y2="731.8" stroke="#111" stroke-width="1.68"/>
<polygon points="777.6,696.5 780.2,706.5 775.0,706.5" fill="#111"/>
<polygon points="777.6,731.3 775.0,721.3 780.2,721.3" fill="#111"/>
<text transform="translate(776.02,725.98) rotate(-90)" x="0" y="0" font-size="23.56" textLength="25.70" lengthAdjust="spacingAndGlyphs">50</text>
<line x1="709.2" y1="731.8" x2="709.2" y2="751.0" stroke="#111" stroke-width="1.57"/>
<line x1="745.6" y1="731.8" x2="745.6" y2="751.0" stroke="#111" stroke-width="1.57"/>
<line x1="709.2" y1="749.5" x2="745.6" y2="749.5" stroke="#111" stroke-width="1.57"/>
<text x="713.46" y="750.13" font-size="20.43" textLength="27.23" lengthAdjust="spacingAndGlyphs">50</text>
<line x1="680.2" y1="714.0" x2="751.8" y2="714.0" stroke="#111" stroke-width="1.57"/>
<line x1="680.6" y1="714.0" x2="681.0" y2="777.6" stroke="#111" stroke-width="1.68"/>
<polygon points="680.6,714.5 683.8,730.5 677.4,730.5" fill="#111"/>
<polygon points="681.0,777.0 677.8,761.0 684.2,761.0" fill="#111"/>
<text transform="translate(677.43,744.69) rotate(-90)" x="0" y="0" font-size="25.73" textLength="26.60" lengthAdjust="spacingAndGlyphs">85</text>
<circle cx="664.5" cy="753.5" r="6.2" fill="none" stroke="#111" stroke-width="2.01"/>
<line x1="664.5" y1="759.7" x2="664.5" y2="785.0" stroke="#111" stroke-width="1.79"/>
<line x1="657.5" y1="779.0" x2="671.5" y2="779.0" stroke="#111" stroke-width="3.0"/>
<circle cx="788.2" cy="753.3" r="6.2" fill="none" stroke="#111" stroke-width="2.01"/>
<line x1="788.2" y1="759.5" x2="788.2" y2="785.0" stroke="#111" stroke-width="1.79"/>
<line x1="781.2" y1="779.0" x2="795.2" y2="779.0" stroke="#111" stroke-width="3.0"/>
<line x1="697.6" y1="777.6" x2="697.6" y2="801.0" stroke="#111" stroke-width="1.57"/>
<line x1="756.4" y1="777.6" x2="756.4" y2="801.0" stroke="#111" stroke-width="1.57"/>
<line x1="697.6" y1="800.0" x2="756.4" y2="800.0" stroke="#111" stroke-width="1.68"/>
<polygon points="698.1,800.0 714.1,796.8 714.1,803.2" fill="#111"/>
<polygon points="755.9,800.0 739.9,803.2 739.9,796.8" fill="#111"/>
<text x="712.81" y="796.84" font-size="21.46" textLength="27.39" lengthAdjust="spacingAndGlyphs">82</text>
<path d="M395,867.8 L395,857 Q395.5,848 405.6,846.7 L440,843 Q469,840.5 498,843 L531,847.6 Q542.7,849.5 542.7,858 L542.7,958.7 Q542.7,965.5 531,966.7 L498,970 Q469,972.5 440,970 L405.3,965.8 Q395.6,964 395.6,955 L395.6,946" fill="none" stroke="#111" stroke-width="2.34"/>
<polyline points="329.0,884.4 361.6,884.4 405.6,874.4" fill="none" stroke="#111" stroke-width="2.23" stroke-linejoin="round"/>
<polyline points="329.0,929.0 362.7,929.3 408.9,942.7" fill="none" stroke="#111" stroke-width="2.23" stroke-linejoin="round"/>
<polyline points="380.0,868.3 377.0,869.0 377.0,884.4" fill="none" stroke="#111" stroke-width="2.01" stroke-linejoin="round"/>
<line x1="377.0" y1="868.3" x2="402.0" y2="868.3" stroke="#111" stroke-width="2.01"/>
<polyline points="377.2,929.3 377.2,944.4 407.0,944.4" fill="none" stroke="#111" stroke-width="2.01" stroke-linejoin="round"/>
<path d="M431,845 A73.5,73.5 0 0 0 431,969" fill="none" stroke="#111" stroke-width="1.79"/>
<path d="M469,843 A64,64 0 0 0 469,971" fill="none" stroke="#111" stroke-width="3.33" stroke-dasharray="1.5,0.9"/>
<path d="M469,845.5 A61.5,61.5 0 0 0 469,968.5" fill="none" stroke="#111" stroke-width="1.35"/>
<ellipse cx="470.6" cy="907.0" rx="61.2" ry="60.2" fill="none" stroke="#111" stroke-width="1.9"/>
<path d="M462,843.5 A64,64 0 0 1 533,907 A64,64 0 0 1 462,970.5" fill="none" stroke="#111" stroke-width="1.46"/>
<path d="M531,866 L539,875 L539,935.6 L531,946" fill="none" stroke="#111" stroke-width="1.9"/>
<path d="M418.5,875.3 C420.5,880.0 423.0,882.0 428.0,882.7 C437.0,884.0 440.0,888.0 440.0,895.0 L440.0,919.0 C440.0,926.0 437.0,930.0 428.0,931.3 C423.0,932.0 420.5,934.0 418.5,938.7" fill="none" stroke="#111" stroke-width="1.79"/>
<path d="M522.0,875.3 C517.5,880.0 515.0,882.0 510.0,882.7 C501.0,884.0 498.0,888.0 498.0,895.0 L498.0,919.0 C498.0,926.0 501.0,930.0 510.0,931.3 C515.0,932.0 517.5,934.0 522.0,938.7" fill="none" stroke="#111" stroke-width="1.79"/>
<polygon points="423.9,893.9 428.9,888.9 433.9,893.9 428.9,898.9" fill="#111"/>
<polygon points="423.9,920.4 428.9,915.4 433.9,920.4 428.9,925.4" fill="#111"/>
<polygon points="504.8,893.9 509.8,888.9 514.8,893.9 509.8,898.9" fill="#111"/>
<polygon points="504.8,920.4 509.8,915.4 514.8,920.4 509.8,925.4" fill="#111"/>
<line x1="509.8" y1="888.0" x2="509.8" y2="981.0" stroke="#111" stroke-width="1.68"/>
<line x1="428.9" y1="889.0" x2="428.9" y2="993.0" stroke="#111" stroke-width="1.68"/>
<line x1="509.8" y1="893.0" x2="509.8" y2="993.0" stroke="#111" stroke-width="1.68"/>
<circle cx="406.7" cy="860.0" r="5.6" fill="#333" stroke="#111" stroke-width="4.21"/>
<line x1="403.2" y1="860.0" x2="410.2" y2="860.0" stroke="#ddd" stroke-width="1.13"/>
<line x1="406.7" y1="856.5" x2="406.7" y2="863.5" stroke="#ddd" stroke-width="1.13"/>
<circle cx="531.1" cy="860.5" r="5.6" fill="#333" stroke="#111" stroke-width="4.21"/>
<line x1="527.6" y1="860.5" x2="534.6" y2="860.5" stroke="#ddd" stroke-width="1.13"/>
<line x1="531.1" y1="857.0" x2="531.1" y2="864.0" stroke="#ddd" stroke-width="1.13"/>
<circle cx="406.6" cy="953.3" r="5.6" fill="#333" stroke="#111" stroke-width="4.21"/>
<line x1="403.1" y1="953.3" x2="410.1" y2="953.3" stroke="#ddd" stroke-width="1.13"/>
<line x1="406.6" y1="949.8" x2="406.6" y2="956.8" stroke="#ddd" stroke-width="1.13"/>
<circle cx="531.1" cy="953.3" r="5.6" fill="#333" stroke="#111" stroke-width="4.21"/>
<line x1="527.6" y1="953.3" x2="534.6" y2="953.3" stroke="#ddd" stroke-width="1.13"/>
<line x1="531.1" y1="949.8" x2="531.1" y2="956.8" stroke="#ddd" stroke-width="1.13"/>
<line x1="342.0" y1="907.1" x2="549.0" y2="907.1" stroke="#111" stroke-width="1.9" stroke-dasharray="14,4,3,4"/>
<line x1="468.6" y1="793.0" x2="468.9" y2="972.0" stroke="#111" stroke-width="1.79" stroke-dasharray="48,4,3,4,30,4,3,4"/>
<line x1="361.6" y1="824.4" x2="468.0" y2="824.4" stroke="#111" stroke-width="1.68"/>
<line x1="361.6" y1="822.0" x2="361.6" y2="930.0" stroke="#111" stroke-width="1.68"/>
<polygon points="362.1,824.4 379.1,821.1 379.1,827.7" fill="#111"/>
<polygon points="467.5,824.4 451.5,827.7 451.5,821.1" fill="#111"/>
<text x="400.04" y="821.12" font-size="23.90" textLength="39.85" lengthAdjust="spacingAndGlyphs">145</text>
<line x1="330.0" y1="884.4" x2="330.0" y2="929.0" stroke="#111" stroke-width="1.68"/>
<polygon points="330.0,885.0 333.2,900.0 326.8,900.0" fill="#111"/>
<polygon points="330.0,928.4 326.8,913.4 333.2,913.4" fill="#111"/>
<text transform="translate(318.28,933.17) rotate(-90)" x="0" y="0" font-size="23.25" textLength="47.87" lengthAdjust="spacingAndGlyphs">Φ&#8201;60</text>
<line x1="385.6" y1="893.9" x2="430.0" y2="893.9" stroke="#111" stroke-width="1.68"/>
<line x1="385.6" y1="920.3" x2="430.0" y2="920.3" stroke="#111" stroke-width="1.68"/>
<line x1="388.0" y1="888.0" x2="388.0" y2="925.0" stroke="#111" stroke-width="1.57"/>
<polygon points="388.0,894.3 390.2,901.3 385.8,901.3" fill="#111"/>
<polygon points="388.0,919.9 385.8,912.9 390.2,912.9" fill="#111"/>
<text transform="translate(382.12,918.94) rotate(-90)" x="0" y="0" font-size="23.14" textLength="27.69" lengthAdjust="spacingAndGlyphs">35</text>
<polyline points="420.9,911.6 441.3,937.6 477.8,937.6" fill="none" stroke="#111" stroke-width="1.68" stroke-linejoin="round"/>
<text x="441.70" y="935.33" font-size="23.97" textLength="54.99" lengthAdjust="spacingAndGlyphs">4-M10</text>
<line x1="538.0" y1="861.8" x2="577.3" y2="861.8" stroke="#111" stroke-width="1.57"/>
<line x1="538.0" y1="951.6" x2="577.3" y2="951.6" stroke="#111" stroke-width="1.57"/>
<line x1="543.6" y1="858.2" x2="602.2" y2="858.2" stroke="#111" stroke-width="1.57"/>
<line x1="543.6" y1="955.1" x2="602.2" y2="955.1" stroke="#111" stroke-width="1.57"/>
<line x1="574.7" y1="861.8" x2="574.7" y2="951.6" stroke="#111" stroke-width="1.68"/>
<polygon points="574.7,862.3 578.0,879.3 571.4,879.3" fill="#111"/>
<polygon points="574.7,951.1 571.4,934.1 578.0,934.1" fill="#111"/>
<line x1="601.3" y1="858.2" x2="601.3" y2="955.1" stroke="#111" stroke-width="1.68"/>
<polygon points="601.3,858.7 604.6,875.7 598.0,875.7" fill="#111"/>
<polygon points="601.3,954.6 598.0,937.6 604.6,937.6" fill="#111"/>
<text transform="translate(569.68,933.26) rotate(-90)" x="0" y="0" font-size="24.19" textLength="39.57" lengthAdjust="spacingAndGlyphs">120</text>
<text transform="translate(596.62,933.26) rotate(-90)" x="0" y="0" font-size="24.14" textLength="39.45" lengthAdjust="spacingAndGlyphs">130</text>
<line x1="428.9" y1="991.9" x2="509.8" y2="991.9" stroke="#111" stroke-width="1.68"/>
<polygon points="429.4,991.9 446.4,988.6 446.4,995.2" fill="#111"/>
<polygon points="509.3,991.9 492.3,995.2 492.3,988.6" fill="#111"/>
<text x="448.65" y="989.18" font-size="20.27" textLength="38.09" lengthAdjust="spacingAndGlyphs">110</text>
<line x1="406.6" y1="960.0" x2="406.6" y2="1013.0" stroke="#111" stroke-width="1.68"/>
<line x1="532.0" y1="960.0" x2="532.0" y2="1013.0" stroke="#111" stroke-width="1.68"/>
<line x1="406.6" y1="1012.0" x2="532.0" y2="1012.0" stroke="#111" stroke-width="1.68"/>
<polygon points="407.1,1012.0 424.1,1008.7 424.1,1015.3" fill="#111"/>
<polygon points="531.5,1012.0 514.5,1015.3 514.5,1008.7" fill="#111"/>
<text x="451.71" y="1009.50" font-size="20.93" textLength="38.90" lengthAdjust="spacingAndGlyphs">170</text>
</svg>
</body></html>
